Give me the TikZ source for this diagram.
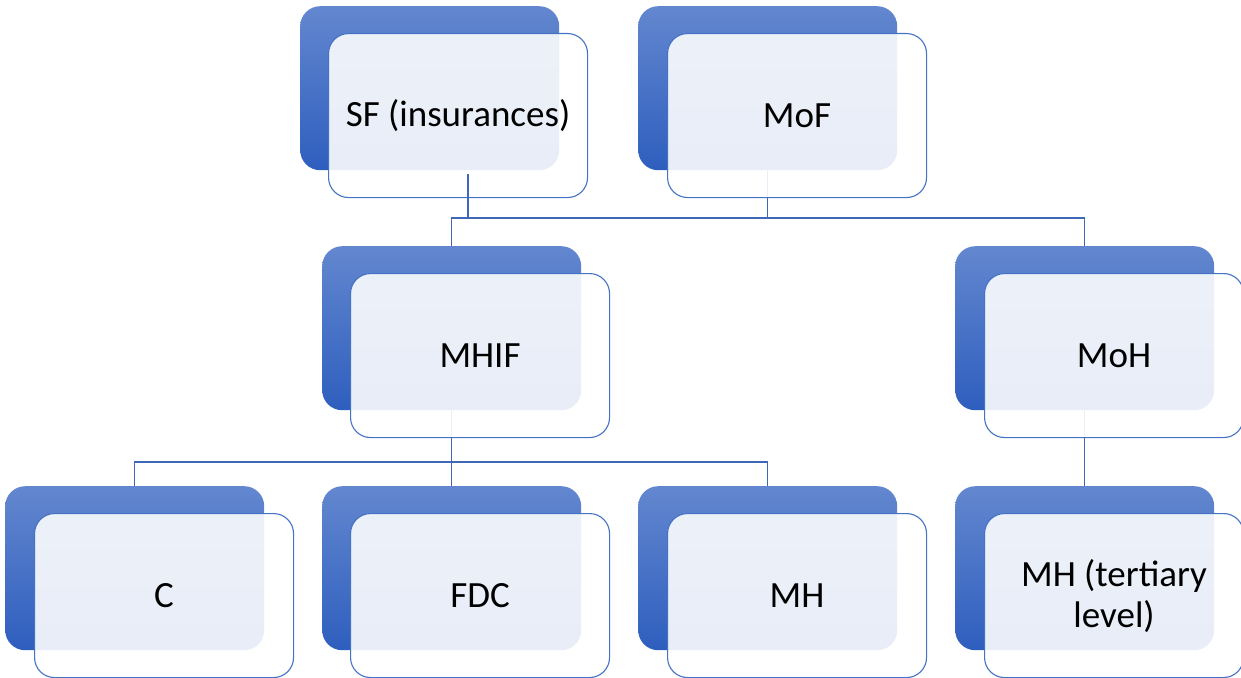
\documentclass[tikz,border=0pt]{standalone}
\usepackage{fontspec}
\setmainfont{Carlito}
\definecolor{acc}{HTML}{4472C4}
\definecolor{topblue}{HTML}{6387CF}
\definecolor{botblue}{HTML}{2E5EBE}
\definecolor{linecol}{HTML}{4068B8}
\pgfdeclarelayer{bg}
\pgfsetlayers{bg,main}
\tikzset{
  backbox/.style={rectangle, rounded corners=20pt, minimum width=259pt, minimum height=164pt,
    anchor=north west, inner sep=0pt, top color=topblue, bottom color=botblue, draw=none},
  frontbox/.style={rectangle, rounded corners=20pt, minimum width=259pt, minimum height=164pt,
    anchor=north west, inner sep=0pt, fill=white, fill opacity=0.89, text opacity=1,
    draw=acc, draw opacity=1, line width=1.1pt, align=center,
    font=\fontsize{37}{41}\selectfont},
  conn/.style={draw=linecol, line width=1.4pt}
}
\begin{document}
\begin{tikzpicture}[x=1pt,y=-1pt]
\useasboundingbox (0,0) rectangle (1241,677);
\coordinate (bus1) at (0,218);
\coordinate (bus2) at (0,462);
% nodes
\node[backbox] (sfb) at (300,6) {};
\node[frontbox] (sf) at (328,33) {SF (insurances)};
\node[backbox] (mofb) at (638,6) {};
\node[frontbox] (mof) at (667,33) {MoF};
\node[backbox] (mhifb) at (322,246) {};
\node[frontbox] (mhif) at (350,273) {MHIF};
\node[backbox] (mohb) at (955,246) {};
\node[frontbox] (moh) at (984,273) {MoH};
\node[backbox] (cb) at (5,486) {};
\node[frontbox] (c) at (34,513) {C};
\node[backbox] (fdcb) at (322,486) {};
\node[frontbox] (fdc) at (350,513) {FDC};
\node[backbox] (mhb) at (638,486) {};
\node[frontbox] (mh) at (667,513) {MH};
\node[backbox] (mhtb) at (955,486) {};
\node[frontbox] (mht) at (984,513) {MH (tertiary\\level)};
% connectors beneath the boxes
\begin{pgfonlayer}{bg}
\draw[conn] (mofb.south) -- (mofb.south |- bus1);
\draw[conn] (mhifb.north) -- (mhifb.north |- bus1) -| (mohb.north);
\draw[conn] (mohb.south) -- (mhtb.north);
\draw[conn] (mhifb.south) -- (fdcb.north);
\draw[conn] (cb.north) -- (cb.north |- bus2) -| (mhb.north);
\end{pgfonlayer}
% SF connector (visible through its front box)
\coordinate (sfc) at (468,174);
\draw[conn] (sfc) -- (sfc |- bus1);
\end{tikzpicture}
\end{document}
